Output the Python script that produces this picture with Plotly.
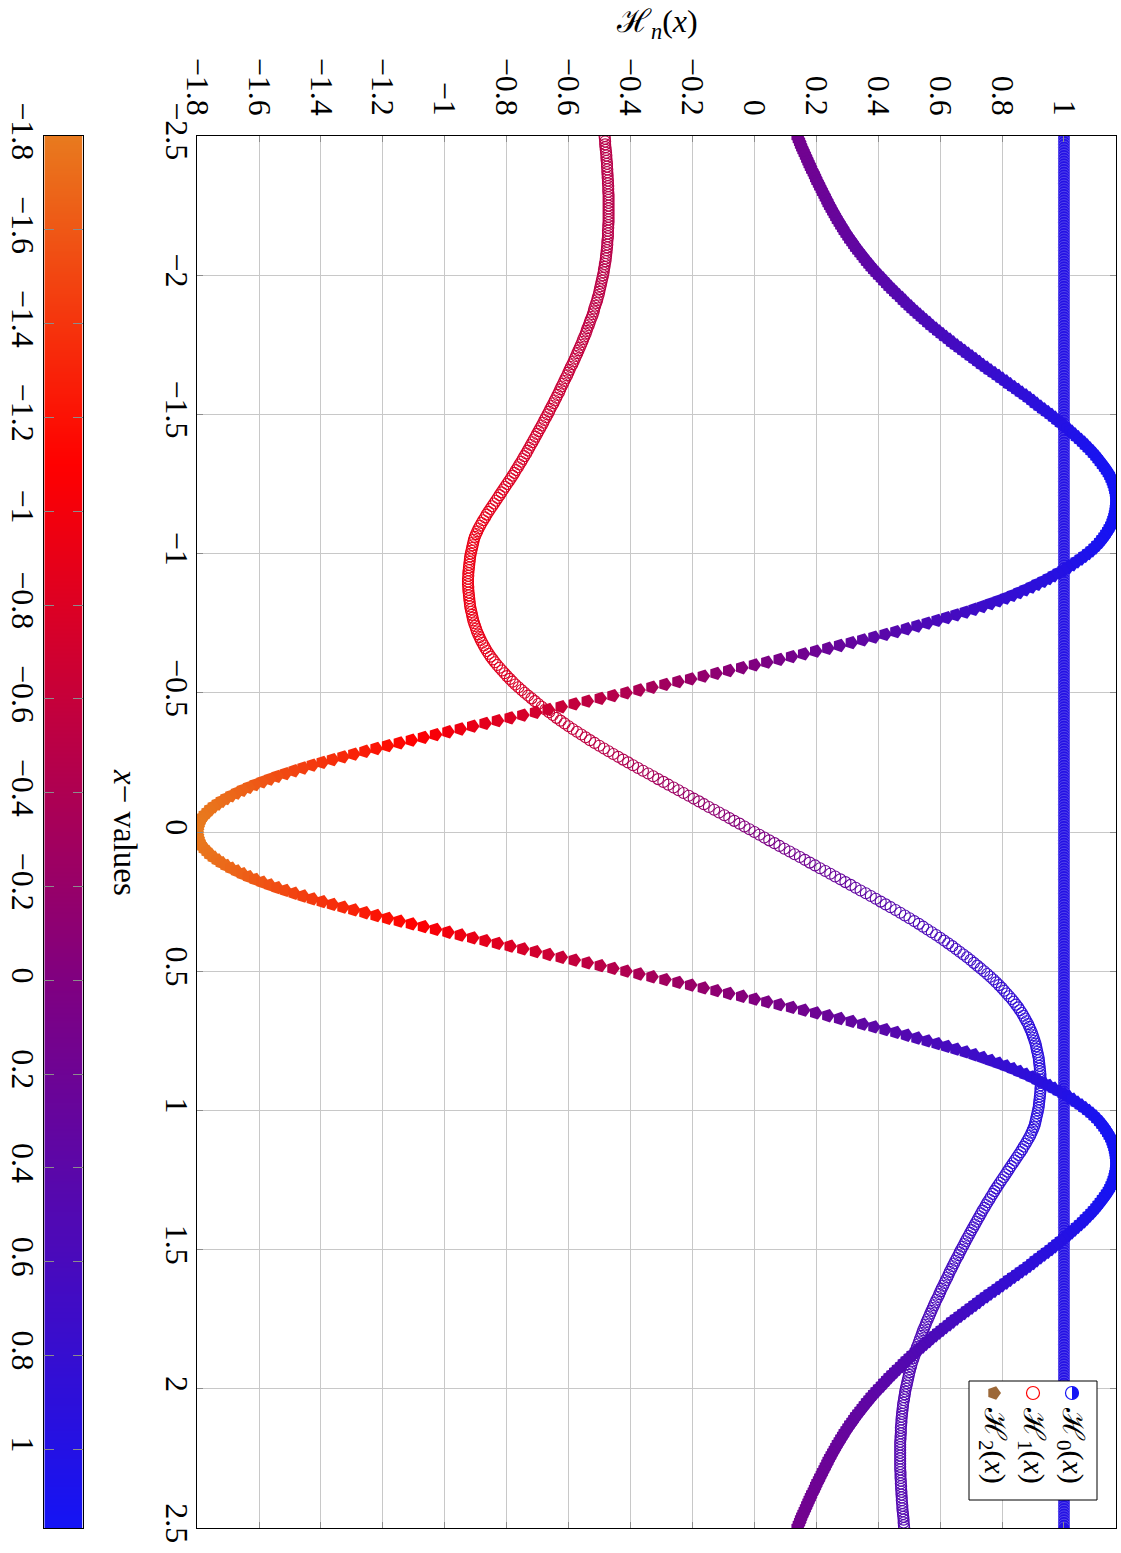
import numpy as np
import plotly.graph_objects as go

# ---------------- data ----------------
X = np.round(np.linspace(-2.5, 2.5, 501), 2).tolist()

H0 = [1.0] * 501

H1 = [
    -0.484, -0.483, -0.482, -0.482, -0.481, -0.480, -0.479, -0.478, -0.478, -0.477,
    -0.476, -0.476, -0.475, -0.475, -0.474, -0.474, -0.473, -0.473, -0.472, -0.472,
    -0.472, -0.471, -0.471, -0.471, -0.471, -0.471, -0.471, -0.471, -0.471, -0.471,
    -0.471, -0.471, -0.472, -0.472, -0.473, -0.473, -0.473, -0.474, -0.475, -0.475,
    -0.476, -0.477, -0.478, -0.479, -0.480, -0.481, -0.483, -0.484, -0.486, -0.487,
    -0.489, -0.491, -0.493, -0.495, -0.497, -0.499, -0.501, -0.503, -0.506, -0.508,
    -0.511, -0.514, -0.517, -0.519, -0.522, -0.525, -0.529, -0.532, -0.535, -0.539,
    -0.542, -0.545, -0.549, -0.553, -0.556, -0.560, -0.564, -0.568, -0.572, -0.576,
    -0.580, -0.584, -0.588, -0.593, -0.597, -0.601, -0.605, -0.610, -0.614, -0.618,
    -0.623, -0.627, -0.631, -0.636, -0.640, -0.645, -0.649, -0.654, -0.659, -0.663,
    -0.668, -0.673, -0.678, -0.682, -0.687, -0.692, -0.697, -0.702, -0.707, -0.712,
    -0.717, -0.722, -0.727, -0.732, -0.737, -0.743, -0.748, -0.753, -0.759, -0.764,
    -0.770, -0.775, -0.781, -0.787, -0.793, -0.799, -0.805, -0.811, -0.817, -0.823,
    -0.829, -0.835, -0.841, -0.847, -0.853, -0.859, -0.865, -0.870, -0.876, -0.881,
    -0.886, -0.891, -0.895, -0.899, -0.903, -0.906, -0.908, -0.910, -0.912, -0.914,
    -0.916, -0.918, -0.919, -0.920, -0.921, -0.922, -0.923, -0.924, -0.924, -0.925,
    -0.925, -0.925, -0.924, -0.924, -0.923, -0.922, -0.921, -0.920, -0.919, -0.918,
    -0.916, -0.914, -0.912, -0.910, -0.908, -0.905, -0.902, -0.899, -0.896, -0.892,
    -0.888, -0.884, -0.879, -0.874, -0.869, -0.864, -0.858, -0.852, -0.845, -0.838,
    -0.831, -0.823, -0.815, -0.807, -0.799, -0.790, -0.781, -0.772, -0.762, -0.752,
    -0.742, -0.731, -0.720, -0.709, -0.698, -0.687, -0.675, -0.663, -0.651, -0.639,
    -0.626, -0.613, -0.600, -0.587, -0.573, -0.559, -0.545, -0.531, -0.516, -0.501,
    -0.486, -0.471, -0.456, -0.440, -0.424, -0.408, -0.392, -0.376, -0.360, -0.343,
    -0.327, -0.311, -0.294, -0.278, -0.261, -0.245, -0.229, -0.212, -0.196, -0.179,
    -0.163, -0.147, -0.130, -0.114, -0.097, -0.081, -0.065, -0.048, -0.032, -0.016,
    0.000,
    0.016, 0.032, 0.048, 0.065, 0.081, 0.097, 0.114, 0.130, 0.147, 0.163,
    0.179, 0.196, 0.212, 0.229, 0.245, 0.261, 0.278, 0.294, 0.311, 0.327,
    0.343, 0.360, 0.376, 0.392, 0.408, 0.424, 0.440, 0.456, 0.471, 0.486,
    0.501, 0.516, 0.531, 0.545, 0.559, 0.573, 0.587, 0.600, 0.613, 0.626,
    0.639, 0.651, 0.663, 0.675, 0.687, 0.698, 0.709, 0.720, 0.731, 0.742,
    0.752, 0.762, 0.772, 0.781, 0.790, 0.799, 0.807, 0.815, 0.823, 0.831,
    0.838, 0.845, 0.852, 0.858, 0.864, 0.869, 0.874, 0.879, 0.884, 0.888,
    0.892, 0.896, 0.899, 0.902, 0.905, 0.908, 0.910, 0.912, 0.914, 0.916,
    0.918, 0.919, 0.920, 0.921, 0.922, 0.923, 0.924, 0.924, 0.925, 0.925,
    0.925, 0.924, 0.924, 0.923, 0.922, 0.921, 0.920, 0.919, 0.918, 0.916,
    0.914, 0.912, 0.910, 0.908, 0.906, 0.903, 0.899, 0.895, 0.891, 0.886,
    0.881, 0.876, 0.870, 0.865, 0.859, 0.853, 0.847, 0.841, 0.835, 0.829,
    0.823, 0.817, 0.811, 0.805, 0.799, 0.793, 0.787, 0.781, 0.775, 0.770,
    0.764, 0.759, 0.753, 0.748, 0.743, 0.737, 0.732, 0.727, 0.722, 0.717,
    0.712, 0.707, 0.702, 0.697, 0.692, 0.687, 0.682, 0.678, 0.673, 0.668,
    0.663, 0.659, 0.654, 0.649, 0.645, 0.640, 0.636, 0.631, 0.627, 0.623,
    0.618, 0.614, 0.610, 0.605, 0.601, 0.597, 0.593, 0.588, 0.584, 0.580,
    0.576, 0.572, 0.568, 0.564, 0.560, 0.556, 0.553, 0.549, 0.545, 0.542,
    0.539, 0.535, 0.532, 0.529, 0.525, 0.522, 0.519, 0.517, 0.514, 0.511,
    0.508, 0.506, 0.503, 0.501, 0.499, 0.497, 0.495, 0.493, 0.491, 0.489,
    0.487, 0.486, 0.484, 0.483, 0.481, 0.480, 0.479, 0.478, 0.477, 0.476,
    0.475, 0.475, 0.474, 0.473, 0.473, 0.473, 0.472, 0.472, 0.471, 0.471,
    0.471, 0.471, 0.471, 0.471, 0.471, 0.471, 0.471, 0.471, 0.471, 0.472,
    0.472, 0.472, 0.473, 0.473, 0.474, 0.474, 0.475, 0.475, 0.476, 0.476,
    0.477, 0.478, 0.478, 0.479, 0.480, 0.481, 0.482, 0.482, 0.483, 0.484,
]

H2 = [
    0.138, 0.142, 0.146, 0.149, 0.153, 0.157, 0.161, 0.165, 0.169, 0.173,
    0.177, 0.181, 0.185, 0.190, 0.194, 0.198, 0.202, 0.207, 0.211, 0.216,
    0.220, 0.225, 0.229, 0.234, 0.238, 0.243, 0.248, 0.253, 0.258, 0.263,
    0.268, 0.274, 0.279, 0.285, 0.290, 0.296, 0.302, 0.308, 0.315, 0.321,
    0.327, 0.334, 0.341, 0.348, 0.355, 0.362, 0.370, 0.377, 0.385, 0.393,
    0.401, 0.410, 0.418, 0.427, 0.435, 0.444, 0.453, 0.462, 0.472, 0.481,
    0.490, 0.500, 0.509, 0.519, 0.529, 0.539, 0.549, 0.560, 0.570, 0.581,
    0.592, 0.603, 0.614, 0.626, 0.637, 0.649, 0.661, 0.673, 0.685, 0.697,
    0.709, 0.721, 0.733, 0.746, 0.758, 0.771, 0.784, 0.796, 0.809, 0.821,
    0.834, 0.847, 0.859, 0.872, 0.884, 0.896, 0.907, 0.919, 0.931, 0.943,
    0.955, 0.966, 0.977, 0.988, 0.999, 1.010, 1.020, 1.030, 1.040, 1.050,
    1.060, 1.069, 1.078, 1.087, 1.095, 1.103, 1.110, 1.117, 1.124, 1.131,
    1.137, 1.143, 1.148, 1.152, 1.156, 1.159, 1.162, 1.164, 1.166, 1.167,
    1.168, 1.168, 1.168, 1.167, 1.166, 1.165, 1.163, 1.161, 1.158, 1.155,
    1.151, 1.146, 1.141, 1.135, 1.129, 1.122, 1.115, 1.106, 1.097, 1.087,
    1.076, 1.064, 1.052, 1.039, 1.026, 1.012, 0.997, 0.981, 0.965, 0.949,
    0.932, 0.913, 0.894, 0.874, 0.854, 0.833, 0.811, 0.787, 0.762, 0.736,
    0.709, 0.681, 0.651, 0.621, 0.590, 0.558, 0.525, 0.491, 0.457, 0.422,
    0.386, 0.350, 0.313, 0.275, 0.237, 0.198, 0.159, 0.120, 0.080, 0.040,
    0.000, -0.041, -0.083, -0.124, -0.165, -0.206, -0.247, -0.289, -0.331, -0.373,
    -0.415, -0.457, -0.498, -0.540, -0.582, -0.624, -0.666, -0.707, -0.748, -0.789,
    -0.830, -0.870, -0.910, -0.950, -0.990, -1.030, -1.069, -1.108, -1.147, -1.185,
    -1.222, -1.258, -1.294, -1.329, -1.363, -1.396, -1.428, -1.458, -1.487, -1.515,
    -1.542, -1.566, -1.590, -1.613, -1.634, -1.654, -1.673, -1.691, -1.707, -1.722,
    -1.735, -1.748, -1.759, -1.768, -1.777, -1.784, -1.790, -1.794, -1.797, -1.799,
    -1.800,
    -1.799, -1.797, -1.794, -1.790, -1.784, -1.777, -1.768, -1.759, -1.748, -1.735,
    -1.722, -1.707, -1.691, -1.673, -1.654, -1.634, -1.613, -1.590, -1.566, -1.542,
    -1.515, -1.487, -1.458, -1.428, -1.396, -1.363, -1.329, -1.294, -1.258, -1.222,
    -1.185, -1.147, -1.108, -1.069, -1.030, -0.990, -0.950, -0.910, -0.870, -0.830,
    -0.789, -0.748, -0.707, -0.666, -0.624, -0.582, -0.540, -0.498, -0.457, -0.415,
    -0.373, -0.331, -0.289, -0.247, -0.206, -0.165, -0.124, -0.083, -0.041, 0.000,
    0.040, 0.080, 0.120, 0.159, 0.198, 0.237, 0.275, 0.313, 0.350, 0.386,
    0.422, 0.457, 0.491, 0.525, 0.558, 0.590, 0.621, 0.651, 0.681, 0.709,
    0.736, 0.762, 0.787, 0.811, 0.833, 0.854, 0.874, 0.894, 0.913, 0.932,
    0.949, 0.965, 0.981, 0.997, 1.012, 1.026, 1.039, 1.052, 1.064, 1.076,
    1.087, 1.097, 1.106, 1.115, 1.122, 1.129, 1.135, 1.141, 1.146, 1.151,
    1.155, 1.158, 1.161, 1.163, 1.165, 1.166, 1.167, 1.168, 1.168, 1.168,
    1.167, 1.166, 1.164, 1.162, 1.159, 1.156, 1.152, 1.148, 1.143, 1.137,
    1.131, 1.124, 1.117, 1.110, 1.103, 1.095, 1.087, 1.078, 1.069, 1.060,
    1.050, 1.040, 1.030, 1.020, 1.010, 0.999, 0.988, 0.977, 0.966, 0.955,
    0.943, 0.931, 0.919, 0.907, 0.896, 0.884, 0.872, 0.859, 0.847, 0.834,
    0.821, 0.809, 0.796, 0.784, 0.771, 0.758, 0.746, 0.733, 0.721, 0.709,
    0.697, 0.685, 0.673, 0.661, 0.649, 0.637, 0.626, 0.614, 0.603, 0.592,
    0.581, 0.570, 0.560, 0.549, 0.539, 0.529, 0.519, 0.509, 0.500, 0.490,
    0.481, 0.472, 0.462, 0.453, 0.444, 0.435, 0.427, 0.418, 0.410, 0.401,
    0.393, 0.385, 0.377, 0.370, 0.362, 0.355, 0.348, 0.341, 0.334, 0.327,
    0.321, 0.315, 0.308, 0.302, 0.296, 0.290, 0.285, 0.279, 0.274, 0.268,
    0.263, 0.258, 0.253, 0.248, 0.243, 0.238, 0.234, 0.229, 0.225, 0.220,
    0.216, 0.211, 0.207, 0.202, 0.198, 0.194, 0.190, 0.185, 0.181, 0.177,
    0.173, 0.169, 0.165, 0.161, 0.157, 0.153, 0.149, 0.146, 0.142, 0.138,
]

assert len(H1) == 501 and len(H2) == 501, (len(H1), len(H2))

H_TICKS = [-1.8, -1.6, -1.4, -1.2, -1.0, -0.8, -0.6, -0.4, -0.2, 0.0, 0.2, 0.4, 0.6, 0.8, 1.0]
H_TICKTEXT = ["−1.8", "−1.6", "−1.4", "−1.2", "−1", "−0.8", "−0.6", "−0.4", "−0.2",
              "0", "0.2", "0.4", "0.6", "0.8", "1"]
X_TICKS = [-2.5, -2.0, -1.5, -1.0, -0.5, 0.0, 0.5, 1.0, 1.5, 2.0, 2.5]
X_TICKTEXT = ["−2.5", "−2", "−1.5", "−1", "−0.5", "0", "0.5", "1", "1.5", "2", "2.5"]

SERIES_NAMES = ["ℋ<sub>0</sub>(<i>x</i>)", "ℋ<sub>1</sub>(<i>x</i>)", "ℋ<sub>2</sub>(<i>x</i>)"]

# ---------------- layout constants ----------------
W, HGT = 1121, 1553
TOP, BOT = 136, 1528
PLOT_L, PLOT_R = 197.1, 1116.0
CB_L, CB_R = 44.3, 82.7
FONT = "Liberation Serif, DejaVu Serif, serif"


def px(xp):
    return xp / W


def py(yp):
    return (BOT - yp) / (BOT - TOP)


CMIN = min(min(H0), min(H1), min(H2))
CMAX = max(max(H0), max(H1), max(H2))

CSCALE = [
    [0.0, "rgb(232,122,30)"],
    [0.236, "rgb(255,0,0)"],
    [0.606, "rgb(128,0,128)"],
    [1.0, "rgb(20,20,245)"],
]

fig = go.Figure()

fig.add_trace(go.Scatter(
    x=H0, y=X, mode="markers", name="H0", showlegend=False,
    marker=dict(symbol="circle", size=12, color=H0, coloraxis="coloraxis",
                line=dict(color="rgba(255,255,255,0.75)", width=0.3)),
))
fig.add_trace(go.Scatter(
    x=H1, y=X, mode="markers", name="H1", showlegend=False,
    marker=dict(symbol="circle-open", size=11, color=H1, coloraxis="coloraxis",
                line=dict(width=1.1)),
))
fig.add_trace(go.Scatter(
    x=H2, y=X, mode="markers", name="H2", showlegend=False,
    marker=dict(symbol="pentagon", size=14, angle=90, color=H2, coloraxis="coloraxis",
                line=dict(width=0)),
))

# colour bar drawn as a heat-map strip on its own axes
CB = np.linspace(CMIN, CMAX, 700)
fig.add_trace(go.Heatmap(
    z=[[v] for v in CB], x=[0], y=CB, coloraxis="coloraxis",
    xaxis="x2", yaxis="y2", hoverinfo="skip",
))

axis_common = dict(
    showline=True, linecolor="black", linewidth=1, mirror="ticks",
    ticks="inside", ticklen=6, tickcolor="#8c8c8c", tickwidth=1,
    zeroline=False, tickangle=90,
    tickfont=dict(family=FONT, size=32, color="black"),
    automargin=False,
)

fig.update_layout(
    width=W, height=HGT,
    margin=dict(l=0, r=0, t=TOP, b=HGT - BOT, pad=0),
    paper_bgcolor="white", plot_bgcolor="white",
    font=dict(family=FONT, color="black"),
    showlegend=False,
    coloraxis=dict(cmin=CMIN, cmax=CMAX, colorscale=CSCALE, showscale=False),
    xaxis=dict(
        domain=[px(PLOT_L), px(PLOT_R)], anchor="y", side="top",
        range=[CMIN, CMAX], tickvals=H_TICKS, ticktext=H_TICKTEXT,
        showgrid=True, gridcolor="#c8c8c8", gridwidth=1,
        ticklabelstandoff=8, **axis_common,
    ),
    yaxis=dict(
        domain=[0, 1], anchor="x", side="left",
        range=[2.5, -2.5], tickvals=X_TICKS, ticktext=X_TICKTEXT,
        showgrid=True, gridcolor="#c8c8c8", gridwidth=1,
        ticklabelstandoff=-8, **axis_common,
    ),
    xaxis2=dict(
        domain=[px(CB_L), px(CB_R)], anchor="y2", range=[-0.5, 0.5],
        showticklabels=False, ticks="", showgrid=False, zeroline=False,
        showline=True, linecolor="black", linewidth=1, mirror=True,
    ),
    yaxis2=dict(
        domain=[0, 1], anchor="x2", side="left",
        range=[CMAX, CMIN], tickvals=H_TICKS, ticktext=H_TICKTEXT,
        showgrid=False, ticklabelstandoff=-7,
        **{**axis_common, "ticklen": 10},
    ),
)

annotations = [
    dict(text="ℋ<sub><i>n</i></sub>(<i>x</i>)", x=px((PLOT_L + PLOT_R) / 2), y=py(24),
         xref="paper", yref="paper", showarrow=False, textangle=0,
         xanchor="center", yanchor="middle", font=dict(family=FONT, size=32)),
    dict(text="<i>x</i>− values", x=px(125), y=py(832),
         xref="paper", yref="paper", showarrow=False, textangle=90,
         xanchor="center", yanchor="middle", font=dict(family=FONT, size=33)),
]

# legend (rotated like the rest of the page)
LEG_X = [1071, 1032, 993]
for name, lx in zip(SERIES_NAMES, LEG_X):
    annotations.append(dict(
        text=name, x=px(lx), y=py(1445), xref="paper", yref="paper",
        showarrow=False, textangle=90, xanchor="center", yanchor="middle",
        font=dict(family=FONT, size=30)))

fig.update_layout(annotations=annotations)

shapes = [
    dict(type="rect", xref="paper", yref="paper", x0=px(969), x1=px(1097),
         y0=py(1500), y1=py(1381), fillcolor="white",
         line=dict(color="black", width=1), layer="above"),
]

r = 6.5
k = 0.5523
# H0 legend glyph: half-filled circle
shapes.append(dict(type="circle", xref="paper", yref="paper",
                   xsizemode="pixel", ysizemode="pixel",
                   xanchor=px(1072), yanchor=py(1393),
                   x0=-r, x1=r, y0=-r, y1=r, fillcolor="white",
                   line=dict(color="rgb(20,20,245)", width=1.2), layer="above"))
half = (f"M 0,{-r} C {k*r},{-r} {r},{-k*r} {r},0 "
        f"C {r},{k*r} {k*r},{r} 0,{r} Z")
shapes.append(dict(type="path", xref="paper", yref="paper",
                   xsizemode="pixel", ysizemode="pixel",
                   xanchor=px(1072), yanchor=py(1393), path=half,
                   fillcolor="rgb(20,20,245)", line=dict(width=0), layer="above"))
# H1 legend glyph: open red circle
shapes.append(dict(type="circle", xref="paper", yref="paper",
                   xsizemode="pixel", ysizemode="pixel",
                   xanchor=px(1033), yanchor=py(1393),
                   x0=-r, x1=r, y0=-r, y1=r, fillcolor="white",
                   line=dict(color="red", width=1.2), layer="above"))
# H2 legend glyph: brown pentagon pointing right
rp = 7.0
pts = []
for i in range(5):
    a = np.deg2rad(72 * i)
    pts.append(f"{rp*np.cos(a):.2f},{rp*np.sin(a):.2f}")
pent = "M " + " L ".join(pts) + " Z"
shapes.append(dict(type="path", xref="paper", yref="paper",
                   xsizemode="pixel", ysizemode="pixel",
                   xanchor=px(994), yanchor=py(1393), path=pent,
                   fillcolor="rgb(156,104,56)", line=dict(width=0), layer="above"))

fig.update_layout(shapes=shapes)

fig.write_html("out.html")
